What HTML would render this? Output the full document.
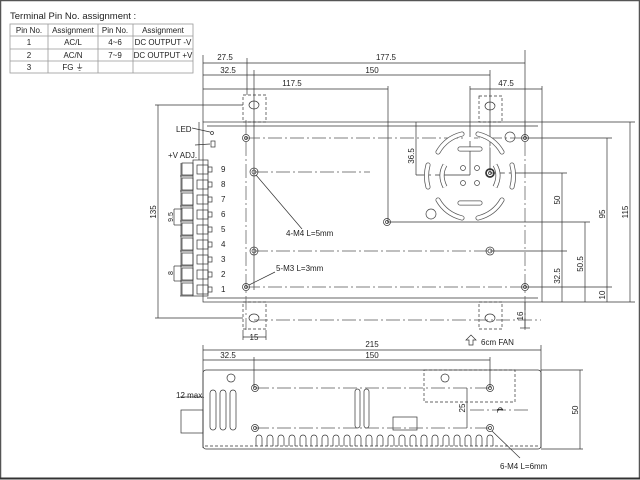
<!DOCTYPE html>
<html><head><style>
html,body{margin:0;padding:0;background:#fff}
svg{display:block}
text{font-family:"Liberation Sans",sans-serif;font-size:8px;fill:#222}
</style></head><body>
<svg width="640" height="480" viewBox="0 0 640 480" xmlns="http://www.w3.org/2000/svg">
<rect x="0" y="0" width="640" height="480" fill="#fff"/>
<rect x="0.5" y="0.5" width="639" height="478" fill="none" stroke="#555" stroke-width="1.5"/>
<line x1="0" y1="478.5" x2="640" y2="478.5" stroke="#333" stroke-width="2"/>

<!-- table -->
<text x="10" y="19" style="font-size:9.5px">Terminal Pin No. assignment :</text>
<g stroke="#999" stroke-width="0.8" fill="none">
<rect x="10" y="24" width="183" height="49"/>
<line x1="10" y1="36" x2="193" y2="36"/><line x1="10" y1="49" x2="193" y2="49"/><line x1="10" y1="61" x2="193" y2="61"/>
<line x1="48" y1="24" x2="48" y2="73"/><line x1="98" y1="24" x2="98" y2="73"/><line x1="133" y1="24" x2="133" y2="73"/>
</g>
<g text-anchor="middle">
<text x="29" y="33">Pin No.</text><text x="73" y="33">Assignment</text><text x="115" y="33">Pin No.</text><text x="163" y="33">Assignment</text>
<text x="29" y="45">1</text><text x="73" y="45">AC/L</text><text x="115" y="45">4~6</text><text x="163" y="45">DC OUTPUT -V</text>
<text x="29" y="58">2</text><text x="73" y="58">AC/N</text><text x="115" y="58">7~9</text><text x="163" y="58">DC OUTPUT +V</text>
<text x="29" y="70">3</text><text x="73" y="70">FG ⏚</text>
</g>

<g stroke="#333" stroke-width="0.7" fill="none">
<!-- top dims -->
<line x1="203" y1="55" x2="203" y2="122"/>
<line x1="203" y1="63" x2="525" y2="63"/><line x1="247" y1="58" x2="247" y2="95"/>
<line x1="525" y1="50" x2="525" y2="138"/>
<line x1="203" y1="75" x2="490" y2="75"/><line x1="254" y1="70" x2="254" y2="290"/>
<line x1="490" y1="70" x2="490" y2="173"/>
<line x1="203" y1="89" x2="388" y2="89"/><line x1="388" y1="86" x2="388" y2="222"/>
<line x1="470" y1="89" x2="542" y2="89"/><line x1="470" y1="86" x2="470" y2="175"/><line x1="542" y1="86" x2="542" y2="122"/>
<!-- main box -->
<rect x="203" y="122" width="339" height="180"/>
<line x1="207" y1="126" x2="538" y2="126"/><line x1="207" y1="298" x2="538" y2="298"/>
<!-- tabs -->
<rect x="243" y="95" width="23" height="27" stroke-dasharray="3 2"/>
<rect x="479" y="96" width="23" height="26" stroke-dasharray="3 2"/>
<rect x="243" y="302" width="23" height="27" stroke-dasharray="3 2"/>
<rect x="479" y="302" width="23" height="27" stroke-dasharray="3 2"/>
<ellipse cx="254" cy="105" rx="5" ry="4"/><ellipse cx="490" cy="106" rx="5" ry="4"/>
<ellipse cx="254" cy="318" rx="5" ry="4"/><ellipse cx="490" cy="318" rx="5" ry="4"/>
<!-- centerlines -->
<g stroke-dasharray="14 3 2 3" stroke="#555">
<line x1="246" y1="138" x2="525" y2="138"/>
<line x1="254" y1="172" x2="370" y2="172"/>
<line x1="254" y1="251" x2="490" y2="251"/>
<line x1="246" y1="287" x2="525" y2="287"/>
<line x1="246" y1="120" x2="246" y2="330"/>
<line x1="525" y1="120" x2="525" y2="330"/>
<line x1="254" y1="320" x2="541" y2="320"/>
</g>
<!-- holes -->
<circle cx="246" cy="138" r="3.5"/><circle cx="246" cy="138" r="1.5"/>
<circle cx="254" cy="172" r="4"/><circle cx="254" cy="172" r="2"/>
<circle cx="254" cy="251" r="4"/><circle cx="254" cy="251" r="2"/>
<circle cx="246" cy="287" r="3.5"/><circle cx="246" cy="287" r="1.5"/>
<circle cx="525" cy="138" r="3.5"/><circle cx="525" cy="138" r="1.5"/>
<circle cx="525" cy="287" r="3.5"/><circle cx="525" cy="287" r="1.5"/>
<circle cx="387" cy="222" r="3.5"/><circle cx="387" cy="222" r="1.5"/>
<circle cx="490" cy="251" r="4"/><circle cx="490" cy="251" r="2"/>
<circle cx="490" cy="173" r="4" stroke-width="1.5"/><circle cx="490" cy="173" r="1.5"/>
<line x1="525" y1="138" x2="612" y2="138"/><line x1="525" y1="287" x2="612" y2="287"/>
<line x1="490" y1="173" x2="567" y2="173"/><line x1="387" y1="222" x2="590" y2="222"/>
<line x1="490" y1="251" x2="567" y2="251"/>
<line x1="542" y1="122" x2="635" y2="122"/><line x1="542" y1="302" x2="635" y2="302"/>
<line x1="416" y1="122" x2="416" y2="175"/><line x1="416" y1="175" x2="470" y2="175"/>
<!-- fan -->
<g stroke="#444">
<circle cx="470" cy="176" r="37" stroke-dasharray="10 4" stroke-width="4" stroke="#fff"/>
<path d="M445 165 q-6 10 0 22" stroke-width="5" stroke="#555"/><path d="M445 165 q-6 10 0 22" stroke-width="3.5" stroke="#fff"/>
<path d="M495 165 q6 10 0 22" stroke-width="5" stroke="#555"/><path d="M495 165 q6 10 0 22" stroke-width="3.5" stroke="#fff"/>
<path d="M460 149 h20" stroke-width="5" stroke="#555" stroke-linecap="round"/><path d="M460 149 h20" stroke-width="3.5" stroke="#fff" stroke-linecap="round"/>
<path d="M460 203 h20" stroke-width="5" stroke="#555" stroke-linecap="round"/><path d="M460 203 h20" stroke-width="3.5" stroke="#fff" stroke-linecap="round"/>
<path d="M438 152 q8 -14 24 -18" stroke-width="5" stroke="#555" stroke-linecap="round"/><path d="M438 152 q8 -14 24 -18" stroke-width="3.5" stroke="#fff" stroke-linecap="round"/>
<path d="M478 134 q16 4 24 18" stroke-width="5" stroke="#555" stroke-linecap="round"/><path d="M478 134 q16 4 24 18" stroke-width="3.5" stroke="#fff" stroke-linecap="round"/>
<path d="M438 200 q8 14 24 18" stroke-width="5" stroke="#555" stroke-linecap="round"/><path d="M438 200 q8 14 24 18" stroke-width="3.5" stroke="#fff" stroke-linecap="round"/>
<path d="M478 218 q16 -4 24 -18" stroke-width="5" stroke="#555" stroke-linecap="round"/><path d="M478 218 q16 -4 24 -18" stroke-width="3.5" stroke="#fff" stroke-linecap="round"/>
<path d="M428 165 q-3 11 0 22" stroke-width="5" stroke="#555" stroke-linecap="round"/><path d="M428 165 q-3 11 0 22" stroke-width="3.5" stroke="#fff" stroke-linecap="round"/>
<path d="M512 165 q3 11 0 22" stroke-width="5" stroke="#555" stroke-linecap="round"/><path d="M512 165 q3 11 0 22" stroke-width="3.5" stroke="#fff" stroke-linecap="round"/>
<circle cx="463" cy="168" r="2.5"/><circle cx="477" cy="168" r="2.5"/><circle cx="463" cy="183" r="2.5"/><circle cx="477" cy="183" r="2.5"/>
<circle cx="510" cy="137" r="5"/><circle cx="431" cy="214" r="5"/>
</g>
<circle cx="490" cy="173" r="4" stroke-width="1.5"/>
<!-- right dims -->
<line x1="630" y1="122" x2="630" y2="302"/>
<line x1="607" y1="138" x2="607" y2="302"/>
<line x1="585" y1="222" x2="585" y2="302"/>
<line x1="562" y1="173" x2="562" y2="302"/>
<line x1="525" y1="302" x2="525" y2="328"/>
<line x1="520" y1="328" x2="530" y2="328"/>
<!-- left side -->
<line x1="158" y1="105" x2="158" y2="318"/>
<line x1="155" y1="105" x2="243" y2="105"/><line x1="155" y1="318" x2="243" y2="318"/>
<line x1="243" y1="337" x2="266" y2="337"/><line x1="243" y1="330" x2="243" y2="340"/><line x1="266" y1="330" x2="266" y2="340"/>
<!-- terminal block -->
<rect x="193" y="160" width="15" height="136"/>
<line x1="199" y1="122" x2="199" y2="160"/>
<g id="t">
<rect x="182" y="163" width="11" height="12"/>
<rect x="197" y="165" width="11" height="9"/>
<rect x="208" y="167" width="4" height="5"/>
<line x1="180" y1="176" x2="193" y2="176"/>
</g>
<use href="#t" y="15"/><use href="#t" y="30"/><use href="#t" y="45"/><use href="#t" y="60"/>
<use href="#t" y="75"/><use href="#t" y="90"/><use href="#t" y="105"/><use href="#t" y="120"/>
<line x1="181" y1="163" x2="181" y2="296"/>
<circle cx="212" cy="133" r="1.5"/><rect x="211" y="141" width="4" height="6"/>
<line x1="192" y1="128" x2="210" y2="132"/><line x1="195" y1="145" x2="210" y2="144"/>
<line x1="174" y1="209" x2="174" y2="225"/><line x1="174" y1="209" x2="182" y2="209"/><line x1="174" y1="225" x2="182" y2="225"/>
<line x1="174" y1="266" x2="174" y2="281"/><line x1="174" y1="266" x2="182" y2="266"/><line x1="174" y1="281" x2="182" y2="281"/>
<line x1="256" y1="175" x2="302" y2="229"/><line x1="249" y1="285" x2="275" y2="272"/>
<!-- fan arrow -->
<path d="M469 345 v-5 h-3 l5 -5 l5 5 h-3 v5 z"/>

<!-- bottom view -->
<line x1="203" y1="345" x2="203" y2="448"/><line x1="541" y1="345" x2="541" y2="448"/>
<line x1="203" y1="350" x2="541" y2="350"/>
<line x1="203" y1="360" x2="490" y2="360"/>
<line x1="254" y1="357" x2="254" y2="388"/><line x1="490" y1="357" x2="490" y2="388"/>
<rect x="203" y="370" width="338" height="79" rx="3"/>
<line x1="541" y1="370" x2="583" y2="370"/><line x1="541" y1="449" x2="583" y2="449"/>
<line x1="580" y1="370" x2="580" y2="449"/>
<rect x="424" y="370" width="91" height="32" stroke-dasharray="3 2"/>
<line x1="205" y1="446" x2="539" y2="446" stroke-dasharray="3 2"/>
<circle cx="231" cy="378" r="4"/><circle cx="445" cy="378" r="4"/>
<rect x="210" y="390" width="6" height="40" rx="3"/><rect x="220" y="390" width="6" height="40" rx="3"/><rect x="230" y="390" width="6" height="40" rx="3"/>
<rect x="355" y="389" width="5" height="39" rx="2.5"/><rect x="364" y="389" width="5" height="39" rx="2.5"/>
<rect x="393" y="417" width="24" height="13"/>
<rect x="181" y="410" width="22" height="23"/>
<line x1="180" y1="397" x2="203" y2="397"/>
<g stroke-dasharray="14 3 2 3" stroke="#555">
<line x1="255" y1="388" x2="490" y2="388"/><line x1="255" y1="428" x2="490" y2="428"/>
<line x1="470" y1="410" x2="530" y2="410"/>
</g>
<line x1="467" y1="388" x2="467" y2="428"/>
<circle cx="255" cy="388" r="3.5"/><circle cx="255" cy="428" r="3.5"/><circle cx="490" cy="388" r="3.5"/><circle cx="490" cy="428" r="3.5"/>
<circle cx="255" cy="388" r="1.5"/><circle cx="255" cy="428" r="1.5"/><circle cx="490" cy="388" r="1.5"/><circle cx="490" cy="428" r="1.5"/>
<line x1="492" y1="431" x2="520" y2="458"/>
<path d="M256 446 v-8 a3 3 0 0 1 6 0 v8 M267 446 v-8 a3 3 0 0 1 6 0 v8 M278 446 v-8 a3 3 0 0 1 6 0 v8 M289 446 v-8 a3 3 0 0 1 6 0 v8 M300 446 v-8 a3 3 0 0 1 6 0 v8 M311 446 v-8 a3 3 0 0 1 6 0 v8 M322 446 v-8 a3 3 0 0 1 6 0 v8 M333 446 v-8 a3 3 0 0 1 6 0 v8 M344 446 v-8 a3 3 0 0 1 6 0 v8 M355 446 v-8 a3 3 0 0 1 6 0 v8 M366 446 v-8 a3 3 0 0 1 6 0 v8 M377 446 v-8 a3 3 0 0 1 6 0 v8 M388 446 v-8 a3 3 0 0 1 6 0 v8 M399 446 v-8 a3 3 0 0 1 6 0 v8 M410 446 v-8 a3 3 0 0 1 6 0 v8 M421 446 v-8 a3 3 0 0 1 6 0 v8 M432 446 v-8 a3 3 0 0 1 6 0 v8 M443 446 v-8 a3 3 0 0 1 6 0 v8 M454 446 v-8 a3 3 0 0 1 6 0 v8 M465 446 v-8 a3 3 0 0 1 6 0 v8 M476 446 v-8 a3 3 0 0 1 6 0 v8 M487 446 v-8 a3 3 0 0 1 6 0 v8"/>
</g>

<!-- labels -->
<g text-anchor="middle">
<text x="225" y="60">27.5</text><text x="386" y="60">177.5</text>
<text x="228" y="73">32.5</text><text x="372" y="73">150</text>
<text x="292" y="86">117.5</text><text x="506" y="86">47.5</text>
<text x="254" y="340">15</text>
<text x="372" y="347">215</text>
<text x="228" y="358">32.5</text><text x="372" y="358">150</text>
</g>
<text x="176" y="132">LED</text>
<text x="168" y="158">+V ADJ.</text>
<g>
<text x="221" y="172">9</text><text x="221" y="187">8</text><text x="221" y="202">7</text><text x="221" y="217">6</text><text x="221" y="232">5</text><text x="221" y="247">4</text><text x="221" y="262">3</text><text x="221" y="277">2</text><text x="221" y="292">1</text>
</g>
<text x="286" y="236">4-M4 L=5mm</text>
<text x="276" y="271">5-M3 L=3mm</text>
<text x="481" y="345">6cm FAN</text>
<text x="176" y="398">12 max.</text>
<text x="500" y="469">6-M4 L=6mm</text>
<g>
<text transform="translate(156,212) rotate(-90)" text-anchor="middle">135</text>
<text transform="translate(173,217) rotate(-90)" text-anchor="middle" style="font-size:7px">9.5</text>
<text transform="translate(173,273) rotate(-90)" text-anchor="middle" style="font-size:7px">8</text>
<text transform="translate(414,156) rotate(-90)" text-anchor="middle">36.5</text>
<text transform="translate(560,200) rotate(-90)" text-anchor="middle">50</text>
<text transform="translate(560,276) rotate(-90)" text-anchor="middle">32.5</text>
<text transform="translate(583,264) rotate(-90)" text-anchor="middle">50.5</text>
<text transform="translate(605,214) rotate(-90)" text-anchor="middle">95</text>
<text transform="translate(605,295) rotate(-90)" text-anchor="middle">10</text>
<text transform="translate(628,212) rotate(-90)" text-anchor="middle">115</text>
<text transform="translate(523,316) rotate(-90)" text-anchor="middle">16</text>
<text transform="translate(465,408) rotate(-90)" text-anchor="middle">25</text>
<text transform="translate(578,410) rotate(-90)" text-anchor="middle">50</text>
<text transform="translate(497,410) rotate(90)" text-anchor="middle">℄</text>
</g>
</svg>
</body></html>
